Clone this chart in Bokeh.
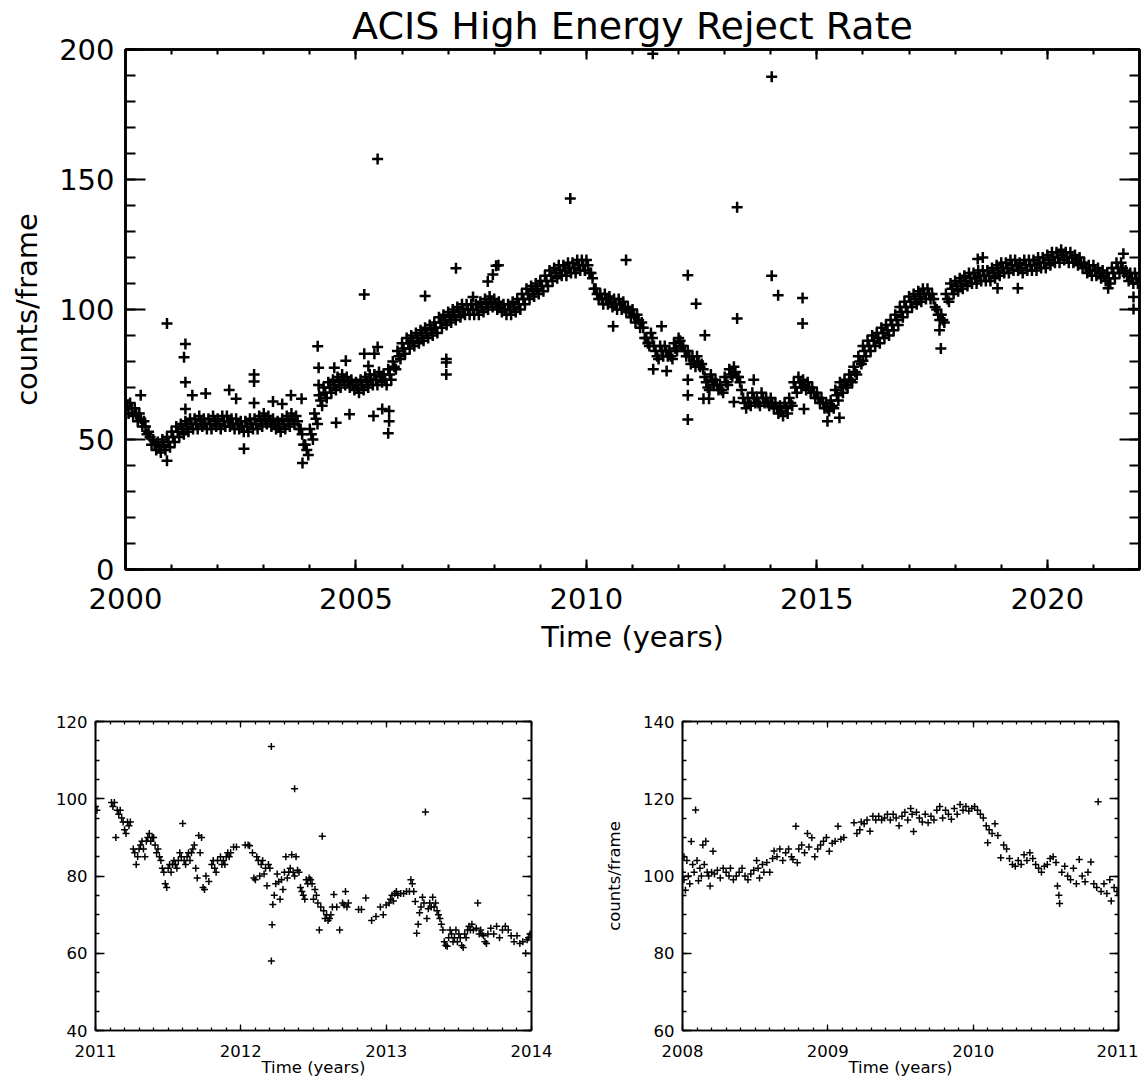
from bokeh.plotting import figure
from bokeh.layouts import column, row
from bokeh.models import SingleIntervalTicker, LinearAxis, Range1d
from bokeh.embed import file_html
from bokeh.resources import INLINE

FONT = "DejaVu Sans"

# ---------------- data: full mission (top panel) ----------------
# three interleaved samplings of the dense band (upper edge, middle, lower edge)
top_t_upper = [round(2000.0 + 0.1 * i, 3) for i in range(220)]
top_t_mid = [round(2000.033 + 0.1 * i, 3) for i in range(220)]
top_t_lower = [round(2000.066 + 0.1 * i, 3) for i in range(220)]

top_v_upper = [
    65, 64, 62, 60, 57, 53, 50, 49, 50, 51,
    53, 55, 56, 57, 58, 58, 59, 58, 58, 59,
    58, 59, 59, 58, 58, 57, 57, 58, 58, 59,
    60, 59, 58, 57, 58, 59, 60, 59, 54, 48,
    54, 60, 67, 70, 72, 73, 74, 75, 74, 73,
    72, 73, 74, 75, 75, 76, 75, 77, 80, 84,
    87, 89, 90, 91, 92, 93, 94, 95, 97, 98,
    99, 100, 101, 102, 102, 102, 102, 103, 104, 105,
    104, 103, 102, 102, 103, 104, 106, 108, 109, 110,
    111, 113, 115, 116, 117, 117, 118, 118, 119, 119,
    119, 114, 108, 106, 106, 105, 104, 104, 103, 101,
    100, 98, 95, 89, 91, 84, 86, 86, 84, 87,
    89, 86, 84, 82, 82, 79, 72, 75, 73, 71,
    74, 77, 78, 74, 66, 66, 68, 66, 68, 66,
    66, 64, 63, 64, 66, 72, 74, 73, 72, 70,
    68, 66, 64, 65, 69, 72, 73, 75, 78, 82,
    86, 88, 90, 91, 93, 94, 96, 98, 101, 103,
    105, 106, 107, 108, 108, 106, 100, 98, 106, 110,
    111, 112, 113, 114, 114, 115, 115, 115, 116, 117,
    118, 118, 119, 119, 118, 119, 119, 119, 120, 120,
    121, 122, 122, 123, 122, 122, 121, 120, 118, 117,
    117, 116, 115, 114, 116, 118, 118, 115, 114, 114,
]

top_v_mid = [
    63, 62, 60, 58, 55, 51, 48, 47, 48, 49,
    51, 53, 54, 55, 56, 56, 57, 56, 56, 57,
    56, 57, 57, 56, 56, 55, 55, 56, 56, 57,
    58, 57, 56, 55, 56, 57, 58, 57, 52, 46,
    52, 58, 65, 68, 70, 71, 72, 73, 72, 71,
    70, 71, 72, 73, 73, 74, 73, 75, 78, 82,
    85, 87, 88, 89, 90, 91, 92, 93, 95, 96,
    97, 98, 99, 100, 100, 100, 100, 101, 102, 103,
    102, 101, 100, 100, 101, 102, 104, 106, 107, 108,
    109, 111, 113, 114, 115, 115, 116, 116, 117, 117,
    117, 112, 106, 104, 104, 103, 102, 102, 101, 99,
    98, 96, 93, 87, 89, 82, 84, 84, 82, 85,
    88, 84, 82, 80, 80, 77, 70, 73, 71, 69,
    72, 75, 76, 72, 64, 64, 66, 64, 66, 64,
    64, 62, 61, 62, 64, 70, 72, 71, 70, 68,
    66, 64, 62, 63, 67, 70, 71, 73, 76, 80,
    84, 86, 88, 89, 91, 92, 94, 96, 99, 101,
    103, 104, 105, 106, 106, 104, 98, 96, 104, 108,
    109, 110, 111, 112, 112, 113, 113, 113, 114, 115,
    116, 116, 117, 117, 116, 117, 117, 117, 118, 118,
    119, 120, 120, 121, 120, 120, 119, 118, 116, 115,
    115, 114, 113, 112, 114, 116, 116, 113, 112, 112,
]

top_v_lower = [
    60, 59, 57, 55, 52, 48, 46, 45, 46, 47,
    49, 51, 52, 53, 54, 54, 55, 54, 54, 55,
    54, 55, 55, 54, 54, 53, 53, 54, 54, 55,
    56, 55, 54, 53, 54, 55, 56, 54, 48, 44,
    50, 56, 63, 66, 68, 69, 70, 71, 70, 69,
    68, 69, 70, 71, 71, 72, 71, 73, 77, 81,
    83, 85, 86, 87, 88, 89, 90, 91, 93, 94,
    95, 96, 97, 98, 98, 98, 98, 99, 100, 101,
    100, 99, 98, 98, 99, 100, 102, 104, 105, 106,
    107, 109, 111, 112, 113, 113, 114, 114, 115, 115,
    114, 108, 104, 102, 102, 101, 100, 100, 99, 97,
    95, 93, 89, 86, 86, 81, 82, 82, 81, 84,
    86, 82, 79, 78, 78, 74, 69, 71, 69, 68,
    71, 74, 74, 69, 62, 63, 64, 63, 64, 63,
    62, 60, 59, 60, 63, 68, 70, 69, 68, 66,
    64, 62, 61, 62, 65, 68, 70, 72, 75, 79,
    82, 84, 86, 87, 89, 90, 92, 94, 97, 99,
    101, 102, 103, 104, 104, 101, 96, 95, 103, 106,
    107, 108, 109, 110, 110, 111, 111, 111, 112, 113,
    114, 114, 115, 115, 114, 115, 115, 115, 116, 116,
    117, 118, 118, 119, 118, 118, 117, 116, 114, 113,
    113, 112, 111, 110, 112, 114, 114, 111, 110, 110,
]

top_out_t = [2000.33, 2000.9, 2000.9, 2001.27, 2001.3, 2001.3, 2001.3, 2001.45, 2001.74,
             2002.25, 2002.4, 2002.57, 2002.79, 2002.79, 2002.79, 2003.2, 2003.4, 2003.59,
             2003.82, 2003.84, 2004.17, 2004.19, 2004.19, 2004.53, 2004.57, 2004.78, 2004.86,
             2005.18, 2005.18, 2005.27, 2005.38, 2005.4, 2005.47, 2005.47, 2005.57, 2005.7,
             2005.72, 2005.72, 2006.5, 2006.96, 2006.96, 2006.96, 2007.17, 2007.54, 2007.86,
             2007.97, 2008.04, 2008.09, 2009.65, 2010.58, 2010.86, 2011.44, 2011.45, 2011.63,
             2011.74, 2012.2, 2012.2, 2012.2, 2012.2, 2012.38, 2012.54, 2012.57, 2012.66,
             2013.2, 2013.27, 2013.27, 2013.63, 2014.02, 2014.02, 2014.16, 2014.69, 2014.69,
             2014.72, 2015.23, 2015.49, 2016.0, 2017.69, 2017.66, 2018.49, 2018.6, 2018.92,
             2019.36, 2021.32, 2021.65, 2021.87, 2021.87]
top_out_v = [67, 94.6, 41.8, 81.6, 86.7, 72, 61.7, 67, 67.7,
             69, 65.7, 46.4, 75, 72.3, 64, 64.6, 63.7, 67,
             65.7, 41, 85.9, 77.6, 71, 77.6, 56.4, 80.3, 59.7,
             105.8, 83, 78.3, 59, 83, 85.6, 157.9, 61.7, 52.4,
             57, 61, 105.2, 75, 79.6, 81, 115.9, 104.8, 110.8,
             113.5, 116.8, 117, 142.7, 93.6, 119, 198.4, 77, 93.6,
             76.3, 113.2, 57.7, 67, 73, 102.2, 65.7, 90.1, 65.7,
             64.4, 139.3, 96.5, 73, 189.5, 113, 105.5, 104.4, 94.6,
             61.7, 57, 58.4, 80.3, 85, 92, 119.4, 120, 108.2,
             108.2, 108.2, 121.4, 104.8, 100.2]

# ---------------- data: 2011-2014 zoom (bottom left) ----------------
bl_t = [2011.00, 2011.01, 2011.11, 2011.12, 2011.13, 2011.14, 2011.15, 2011.16, 2011.17, 2011.18,
        2011.19, 2011.20, 2011.21, 2011.22, 2011.23, 2011.24, 2011.26, 2011.27, 2011.28, 2011.29,
        2011.30, 2011.31, 2011.32, 2011.33, 2011.34, 2011.35, 2011.36, 2011.37, 2011.38, 2011.39,
        2011.40, 2011.41, 2011.42, 2011.43, 2011.44, 2011.45, 2011.46, 2011.47, 2011.48, 2011.49,
        2011.50, 2011.51, 2011.52, 2011.53, 2011.54, 2011.55, 2011.56, 2011.57, 2011.58, 2011.59,
        2011.60, 2011.61, 2011.62, 2011.63, 2011.64, 2011.65, 2011.66, 2011.67, 2011.68, 2011.69,
        2011.70, 2011.71, 2011.72, 2011.73, 2011.74, 2011.75, 2011.76, 2011.78, 2011.80, 2011.81,
        2011.82, 2011.83, 2011.84, 2011.86, 2011.87, 2011.88, 2011.89, 2011.90, 2011.91, 2011.92,
        2011.93, 2011.95, 2011.97, 2012.03, 2012.05, 2012.06, 2012.08, 2012.09, 2012.10, 2012.11,
        2012.12, 2012.13, 2012.14, 2012.15, 2012.16, 2012.17, 2012.18, 2012.19, 2012.20, 2012.21,
        2012.21, 2012.215, 2012.22, 2012.23, 2012.24, 2012.25, 2012.26, 2012.27, 2012.28, 2012.29,
        2012.30, 2012.31, 2012.32, 2012.33, 2012.34, 2012.35, 2012.36, 2012.37, 2012.37, 2012.38,
        2012.39, 2012.40, 2012.41, 2012.42, 2012.43, 2012.44, 2012.45, 2012.46, 2012.47, 2012.48,
        2012.49, 2012.50, 2012.51, 2012.52, 2012.53, 2012.54, 2012.55, 2012.56, 2012.57, 2012.58,
        2012.59, 2012.60, 2012.61, 2012.62, 2012.63, 2012.64, 2012.66, 2012.68, 2012.70, 2012.71,
        2012.72, 2012.73, 2012.74, 2012.81, 2012.83, 2012.86, 2012.90, 2012.93, 2012.96, 2012.98,
        2013.00, 2013.02, 2013.03, 2013.04, 2013.05, 2013.06, 2013.07, 2013.08, 2013.10, 2013.12,
        2013.14, 2013.16, 2013.17, 2013.18, 2013.19, 2013.20, 2013.21, 2013.22, 2013.23, 2013.24,
        2013.25, 2013.26, 2013.27, 2013.28, 2013.29, 2013.30, 2013.31, 2013.32, 2013.33, 2013.34,
        2013.35, 2013.36, 2013.37, 2013.38, 2013.39, 2013.40, 2013.41, 2013.42, 2013.43, 2013.44,
        2013.45, 2013.46, 2013.47, 2013.48, 2013.49, 2013.50, 2013.51, 2013.52, 2013.53, 2013.54,
        2013.55, 2013.56, 2013.57, 2013.58, 2013.59, 2013.60, 2013.62, 2013.63, 2013.64, 2013.65,
        2013.66, 2013.67, 2013.68, 2013.69, 2013.70, 2013.72, 2013.74, 2013.76, 2013.78, 2013.80,
        2013.82, 2013.84, 2013.86, 2013.88, 2013.90, 2013.92, 2013.94, 2013.96, 2013.97, 2013.98,
        2013.99]
bl_v = [98, 97, 99, 98, 99, 90, 97, 96, 97, 95,
        94, 92, 91, 94, 93, 94, 87, 86, 83, 85,
        87, 88, 89, 87, 85, 89, 90, 91, 89, 90,
        90, 88, 86, 87, 85, 84, 82, 81, 78, 77,
        82, 83, 81, 83, 84, 83, 82, 84, 86, 85,
        93.6, 84, 83, 85, 86, 84, 86, 87, 88, 82,
        79.5, 90.5, 86, 90, 77, 76.5, 80, 78.6, 83, 84,
        82, 81, 84, 85, 83, 84, 83, 85, 86, 85,
        86, 87.5, 87.5, 88, 88, 87.8, 86, 79.5, 79, 85,
        84, 80, 83, 84, 80.5, 82, 77.5, 83, 82, 113.5,
        58, 67.4, 72.6, 75, 78, 80.5, 78.5, 74, 79, 76.5,
        81, 85, 79.5, 81, 82, 85.5, 81, 102.6, 80, 85,
        81.5, 81, 77, 76, 75, 74, 79, 78, 79.5, 79,
        78, 74, 76.5, 75, 73, 66, 72, 90.3, 71, 69,
        70, 68.5, 69, 70, 72, 75.2, 72, 66, 73, 72.5,
        76, 72, 73, 71.3, 71.3, 74.3, 68.5, 69.5, 72, 70,
        72.5, 73, 74, 75, 73.5, 75.5, 76, 75, 75.5, 75.5,
        76, 76, 79, 78, 76, 73.4, 65.2, 67.5, 70.5, 72,
        74.5, 73, 96.6, 69, 71.5, 73, 72, 74.5, 72, 73,
        71, 70, 69, 67.5, 66, 63, 62, 61.8, 64, 66,
        65, 63, 64, 66, 63, 65, 64, 62, 61.5, 65,
        64, 66, 67, 66, 67.5, 66, 66.5, 73, 65, 66,
        65, 64.5, 63, 62.5, 65, 66.5, 65, 67, 64, 66,
        67, 66, 64.5, 63, 64.5, 62.5, 63, 60, 63.5, 64,
        65]

# ---------------- data: 2008-2011 zoom (bottom right) ----------------
br_t = [2008.00, 2008.01, 2008.01, 2008.02, 2008.03, 2008.04, 2008.05, 2008.06, 2008.07, 2008.08,
        2008.09, 2008.10, 2008.11, 2008.12, 2008.13, 2008.14, 2008.15, 2008.16, 2008.17, 2008.18,
        2008.19, 2008.20, 2008.21, 2008.22, 2008.24, 2008.26, 2008.28, 2008.30, 2008.32, 2008.33,
        2008.35, 2008.37, 2008.39, 2008.41, 2008.43, 2008.45, 2008.47, 2008.49, 2008.51, 2008.52,
        2008.53, 2008.55, 2008.56, 2008.58, 2008.60, 2008.62, 2008.63, 2008.65, 2008.67, 2008.69,
        2008.71, 2008.73, 2008.75, 2008.76, 2008.78, 2008.79, 2008.80, 2008.82, 2008.84, 2008.86,
        2008.87, 2008.89, 2008.91, 2008.93, 2008.95, 2008.97, 2008.99, 2009.01, 2009.03, 2009.05,
        2009.07, 2009.09, 2009.11, 2009.18, 2009.20, 2009.22, 2009.23, 2009.25, 2009.27, 2009.29,
        2009.31, 2009.33, 2009.35, 2009.37, 2009.39, 2009.41, 2009.43, 2009.45, 2009.47, 2009.49,
        2009.51, 2009.53, 2009.55, 2009.57, 2009.58, 2009.59, 2009.61, 2009.63, 2009.65, 2009.67,
        2009.69, 2009.71, 2009.73, 2009.75, 2009.77, 2009.79, 2009.81, 2009.83, 2009.85, 2009.87,
        2009.89, 2009.91, 2009.93, 2009.95, 2009.97, 2009.99, 2010.01, 2010.03, 2010.05, 2010.07,
        2010.09, 2010.10, 2010.11, 2010.13, 2010.15, 2010.17, 2010.19, 2010.21, 2010.23, 2010.25,
        2010.27, 2010.29, 2010.31, 2010.33, 2010.35, 2010.37, 2010.39, 2010.41, 2010.43, 2010.45,
        2010.47, 2010.49, 2010.51, 2010.53, 2010.55, 2010.57, 2010.58, 2010.59, 2010.595, 2010.61,
        2010.63, 2010.65, 2010.67, 2010.69, 2010.71, 2010.73, 2010.75, 2010.77, 2010.79, 2010.81,
        2010.83, 2010.85, 2010.86, 2010.88, 2010.90, 2010.92, 2010.94, 2010.95, 2010.97, 2010.99]
br_v = [101, 105, 99, 96.3, 104, 100, 98, 108.9, 103, 101,
        117.1, 104, 98.8, 102, 100, 108, 103, 109, 101, 100,
        97.4, 101, 106.4, 100.5, 101.5, 99.5, 102, 101, 100, 102,
        99, 100, 101, 102, 100, 99, 100.5, 101.5, 104, 102,
        99.5, 103, 101, 103.5, 101, 104.5, 106.5, 105, 107, 104,
        106, 107, 105, 104.3, 112.9, 103.4, 107, 108, 106, 111,
        107.5, 109.9, 105, 107, 108, 109, 110, 106.4, 108.5, 109,
        112.9, 109.5, 110, 113.8, 111, 112, 114, 113.5, 114.5, 111.6,
        115.5, 114.5, 115.5, 114.5, 115, 116, 114.5, 116, 115, 113,
        115.5, 116.5, 114.5, 117.5, 116, 111.5, 116.5, 115, 114, 116,
        113.8, 115.5, 114.5, 117, 118, 115, 117, 116, 114.7, 117.5,
        116, 118.5, 117, 118, 116.8, 117.5, 118, 117, 116, 115,
        113, 108.6, 112, 111, 113.5, 110.5, 104.7, 108, 107, 104.5,
        103, 102.5, 104, 103, 105.5, 104, 106, 104.5, 103, 102,
        101, 102.5, 103, 104.5, 105, 103.5, 97.4, 95, 92.9, 101,
        102.5, 100, 99, 102, 98, 104.3, 100, 98.5, 101, 103.6,
        98, 97, 119.2, 96, 98, 95.5, 99, 93.5, 97, 96]


def frame_axes(p, xint, xminor, yint, yminor, xtick, ytick, lw, fs, xstand, ystand,
               xlab_stand, ylab_stand, xlabel, ylabel):
    p.grid.visible = False
    p.outline_line_color = "black"
    p.outline_line_width = lw
    p.background_fill_color = "white"
    p.border_fill_color = "white"
    for ax in list(p.xaxis):
        ax.ticker = SingleIntervalTicker(interval=xint, num_minor_ticks=xminor)
    for ax in list(p.yaxis):
        ax.ticker = SingleIntervalTicker(interval=yint, num_minor_ticks=yminor)
    top = LinearAxis(ticker=SingleIntervalTicker(interval=xint, num_minor_ticks=xminor))
    right = LinearAxis(ticker=SingleIntervalTicker(interval=yint, num_minor_ticks=yminor))
    p.add_layout(top, "above")
    p.add_layout(right, "right")
    for ax, tl in ((p.below[0], xtick), (top, xtick), (p.left[0], ytick), (right, ytick)):
        ax.axis_line_color = "black"
        ax.axis_line_width = lw
        ax.major_tick_line_color = "black"
        ax.minor_tick_line_color = "black"
        ax.major_tick_line_width = lw * 0.8
        ax.minor_tick_line_width = lw * 0.8
        ax.major_tick_in = int(tl)
        ax.major_tick_out = 0
        ax.minor_tick_in = int(round(tl / 2))
        ax.minor_tick_out = 0
        ax.major_label_text_font = FONT
        ax.major_label_text_font_size = f"{fs}px"
        ax.major_label_text_color = "black"
        ax.axis_label_text_font = FONT
        ax.axis_label_text_font_size = f"{fs}px"
        ax.axis_label_text_font_style = "normal"
        ax.axis_label_text_color = "black"
    # mirror axes: ticks only, labels not painted
    for ax in (top, right):
        ax.major_label_text_font_size = "1px"
        ax.major_label_text_color = None
        ax.major_label_standoff = 0
    p.below[0].major_label_standoff = xstand
    p.left[0].major_label_standoff = ystand
    p.below[0].axis_label = xlabel
    p.below[0].axis_label_standoff = xlab_stand
    if ylabel:
        p.left[0].axis_label = ylabel
        p.left[0].axis_label_standoff = ylab_stand


# ---------------- top panel ----------------
top_fig = figure(frame_width=1014, frame_height=520, output_backend="svg", toolbar_location=None,
                 x_range=Range1d(2000, 2022), y_range=Range1d(0, 200),
                 min_border_left=125, min_border_right=3, min_border_top=38, min_border_bottom=100)
top_fig.title.text = "ACIS High Energy Reject Rate"
top_fig.title.text_font = FONT
top_fig.title.text_font_size = "38px"
top_fig.title.text_font_style = "normal"
top_fig.title.text_color = "black"
top_fig.title.align = "center"
top_fig.title.standoff = 3
frame_axes(top_fig, 5, 5, 50, 5, 10, 20, 2.6, 29, 18, 11, 8, 12, "Time (years)", "counts/frame")
for t, v in ((top_t_upper, top_v_upper), (top_t_mid, top_v_mid), (top_t_lower, top_v_lower),
             (top_out_t, top_out_v)):
    top_fig.scatter(t, v, marker="cross", size=11, line_width=2.5, color="black")

# ---------------- bottom left ----------------
bl_fig = figure(frame_width=436, frame_height=309, output_backend="svg", toolbar_location=None,
                x_range=Range1d(2011, 2014), y_range=Range1d(40, 120),
                min_border_left=95, min_border_right=40, min_border_top=52, min_border_bottom=53)
frame_axes(bl_fig, 1, 10, 20, 4, 6, 9, 1.6, 16.5, 14, 8, -2, 10, "Time (years)", None)
bl_fig.scatter(bl_t, bl_v, marker="cross", size=7, line_width=1.5, color="black")

# ---------------- bottom right ----------------
br_fig = figure(frame_width=436, frame_height=309, output_backend="svg", toolbar_location=None,
                x_range=Range1d(2008, 2011), y_range=Range1d(60, 140),
                min_border_left=111, min_border_right=20, min_border_top=52, min_border_bottom=53)
frame_axes(br_fig, 1, 10, 20, 4, 6, 9, 1.6, 16.5, 14, 8, -2, 16, "Time (years)", "counts/frame")
br_fig.scatter(br_t, br_v, marker="cross", size=7, line_width=1.5, color="black")

layout = column(top_fig, row(bl_fig, br_fig))
open("out.html", "w").write(file_html(layout, INLINE))
